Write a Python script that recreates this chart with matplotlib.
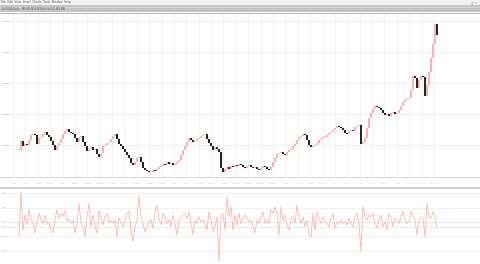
import numpy as np
import matplotlib
matplotlib.use("Agg")
import matplotlib.pyplot as plt
from matplotlib.patches import Rectangle

# ---------------- data ----------------
close = [91.9, 106.5, 98.4, 101.6, 100.0, 108.1, 116.1, 117.7, 116.1, 101.6,
         111.3, 112.9, 117.7, 121.0, 116.1, 112.9, 106.5, 100.0, 91.9, 98.4,
         103.2, 109.7, 117.7, 122.6, 125.8, 121.0, 119.4, 117.7, 111.3, 104.8,
         112.9, 114.5, 104.8, 98.4, 90.3, 93.5, 96.8, 91.9, 93.5, 85.5,
         80.6, 87.1, 98.4, 100.0, 103.2, 104.8, 109.7, 114.5, 117.7, 109.7,
         101.6, 98.4, 93.5, 88.7, 83.9, 79.0, 71.0, 67.7, 72.6, 79.0,
         80.6, 72.6, 62.9, 59.7, 58.1, 56.5, 56.5, 59.7, 58.1, 61.3,
         64.5, 66.1, 69.4, 67.7, 72.6, 69.4, 71.0, 67.7, 69.4, 72.6,
         75.8, 83.9, 91.9, 98.4, 104.8, 111.3, 108.1, 104.8, 106.5, 109.7,
         111.3, 114.5, 116.1, 117.7, 109.7, 103.2, 98.4, 91.9, 96.8, 93.5,
         88.7, 62.9, 56.5, 61.3, 64.5, 61.3, 66.1, 64.5, 67.7, 66.1,
         69.4, 67.7, 64.5, 62.9, 66.1, 67.7, 64.5, 62.9, 64.5, 61.3,
         59.7, 62.9, 66.1, 64.5, 61.3, 59.7, 64.5, 72.6, 79.0, 85.5,
         87.1, 88.7, 85.5, 83.9, 88.7, 91.9, 93.5, 98.4, 101.6, 108.1,
         112.9, 114.5, 117.7, 116.1, 108.1, 100.0, 96.8, 98.4, 100.0, 103.2,
         108.1, 109.7, 112.9, 112.9, 116.1, 119.4, 121.0, 124.2, 127.4, 130.6,
         129.0, 127.4, 124.2, 119.4, 117.7, 122.6, 124.2, 122.6, 129.0, 130.6,
         132.3, 101.6, 104.8, 111.3, 127.4, 143.5, 151.6, 158.1, 162.9, 161.3,
         159.7, 156.5, 151.6, 148.4, 150.0, 146.8, 151.6, 153.2, 150.0, 151.6,
         156.5, 162.9, 169.4, 172.6, 174.2, 175.8, 188.7, 211.3, 208.1, 191.9,
         204.8, 211.3, 209.7, 179.0, 196.8, 217.7, 240.3, 262.9, 295.2, 277.4]

osc = [-51, 105, -28, 25, -10, 45, 10, -2, -39, 2,
       30, 10, -5, 24, -8, -5, -25, -38, 7, 42,
       15, 30, 20, 40, 2, 10, -3, 7, -39, -3,
       65, -5, -20, -51, 18, 65, -15, 25, -16, -39,
       40, 10, -10, 18, 30, -2, 5, -5, 7, -51,
       15, -3, -18, 7, 30, 38, -28, -68, -16, 7,
       88, 20, -5, -33, -20, 1, 7, -22, 36, 58,
       10, -10, 30, 18, -5, 7, -16, 25, -5, -45,
       7, 18, 26, 30, 13, 36, -2, -45, 7, -5,
       18, 1, 7, -5, -28, 36, 13, -33, -16, 18,
       -137, 24, 30, -28, 88, 18, 53, -28, 24, -10,
       30, -5, 13, 24, 13, 1, 7, -16, -39, 7,
       -5, 20, 36, -5, 7, -5, 42, 30, 53, 24,
       -45, 53, 5, 24, -16, -28, 13, 18, -5, 58,
       18, -5, 18, -16, 7, -45, -51, 30, -28, 36,
       13, -5, 18, 1, -5, -16, 13, 30, -22, 1,
       -5, 7, -5, 1, -10, 13, -5, -16, 18, 30,
       -5, -102, 53, 18, 7, 24, 18, 30, -5, -22,
       7, 24, -16, 1, -28, 30, 18, -16, 13, 7,
       -5, 18, 36, 7, -5, 1, 36, 24, 7, -45,
       7, 18, 13, -51, 65, 18, 13, 36, 18, -22]

price_levels = [100, 150, 200, 250, 300]
price_labels = ["1.1000", "1.1500", "1.2000", "1.2500", "1.3000"]
osc_levels = [100, 50, 0, -17, -50, -100]
osc_labels = ["100", "50", "0", "-17", "-50", "-100"]
date_labels = ["2 Jan", "9 Jan", "16 Jan", "23 Jan", "30 Jan", "6 Feb", "13 Feb",
               "20 Feb", "27 Feb", "6 Mar", "13 Mar", "20 Mar", "27 Mar", "3 Apr",
               "10 Apr", "17 Apr", "24 Apr", "1 May", "8 May", "15 May", "22 May",
               "29 May", "5 Jun", "12 Jun", "19 Jun", "26 Jun", "3 Jul", "10 Jul",
               "17 Jul", "24 Jul", "31 Jul", "7 Aug", "14 Aug", "21 Aug", "28 Aug"]

# ---------------- figure ----------------
W, H = 480, 264
fig = plt.figure(figsize=(W / 100, H / 100), dpi=100)
fig.patch.set_facecolor("white")

def fy(px):  # pixel from top -> figure fraction
    return 1 - px / H

# toolbar area
fig.patches.append(Rectangle((0, fy(5)), 1, 5 / H, transform=fig.transFigure,
                             facecolor="#f4f2ee", edgecolor="none", zorder=0))
fig.patches.append(Rectangle((0, fy(12)), 1, 7 / H, transform=fig.transFigure,
                             facecolor="#c4c4c4", edgecolor="none", zorder=0))
fig.patches.append(Rectangle((0, fy(8)), 1, 1 / H, transform=fig.transFigure,
                             facecolor="#d6d6d6", edgecolor="none", zorder=0))
fig.patches.append(Rectangle((0, fy(14)), 1, 1.2 / H, transform=fig.transFigure,
                             facecolor="#b8b8b8", edgecolor="none", zorder=0))
fig.text(1 / W, fy(2.5), "File  Edit  View  Insert  Charts  Tools  Window  Help",
         fontsize=2.0, color="#555555", va="center", ha="left")
fig.text(2 / W, fy(9), "EURUSD,Daily   M1 M5 M15 M30 H1 H4 D1 W1 MN",
         fontsize=1.8, color="#555555", va="center", ha="left")
fig.text(1 - 3 / W, fy(2.5), "_  \u25a1  x", fontsize=2.0, color="#888888",
         va="center", ha="right")

# ---------------- main price panel ----------------
n = len(close)
x = np.arange(n)
opens = np.array([close[0]] + close[:-1])
cl = np.array(close)
up = cl >= opens

ax = fig.add_axes([0, fy(177), 1, (177 - 14) / H])
ax.set_xlim(-9.5, 230.5)
ax.set_ylim(48.4, 311.3)
for s in ax.spines.values():
    s.set_visible(False)
ax.spines["bottom"].set_visible(True)
ax.spines["bottom"].set_color("#d4d4d4")
ax.spines["bottom"].set_linewidth(0.7)

vgrid = np.linspace(-3, -3 + 6.19 * 34, 35)
for v in vgrid:
    ax.axvline(v, color="#edf2f0", lw=0.6, zorder=0)
for lv in price_levels:
    ax.axhline(lv, color="#e9f0ed", lw=0.6, zorder=0)
for lv, lb in zip(price_levels, price_labels):
    ax.text(0.006, lv, lb, transform=ax.get_yaxis_transform(), fontsize=1.6,
            color="#999999", va="center", ha="left")

lo = np.minimum(opens, cl)
hgt = np.maximum(np.abs(cl - opens), 0.9)
ax.bar(x[up], hgt[up], bottom=lo[up], width=0.75, color="#ffb0b0",
       edgecolor="none", zorder=2)
ax.bar(x[~up], hgt[~up], bottom=lo[~up], width=0.7, color="#262626",
       edgecolor="none", zorder=3)

ax.set_xticks(vgrid)
ax.set_xticklabels(date_labels, fontsize=1.4, color="#aaaaaa")
ax.tick_params(axis="x", length=0, pad=4)
ax.set_yticks([])

# divider between panels
fig.patches.append(Rectangle((0, fy(189)), 1, 1.6 / H, transform=fig.transFigure,
                             facecolor="#d0d0d0", edgecolor="none", zorder=0))

# ---------------- oscillator panel ----------------
ax2 = fig.add_axes([0, 0, 1, (264 - 190) / H])
ax2.set_xlim(-9.5, 230.5)
ax2.set_ylim(-144.9, 110.4)
for s in ax2.spines.values():
    s.set_visible(False)
ax2.set_xticks([])
ax2.set_yticks([])
for lv in osc_levels:
    c = "#e3efe3" if lv in (0, -17) else "#ebf1ee"
    ax2.axhline(lv, color=c, lw=0.8 if lv in (0, -17) else 0.6, zorder=0)
for lv, lb in zip(osc_levels, osc_labels):
    ax2.text(0.006, lv, lb, transform=ax2.get_yaxis_transform(), fontsize=1.6,
             color="#999999", va="center", ha="left")
ax2.plot(x, osc, color="#ffb4b4", lw=0.6, zorder=2)

fig.savefig("out.png", dpi=100, facecolor="white")
